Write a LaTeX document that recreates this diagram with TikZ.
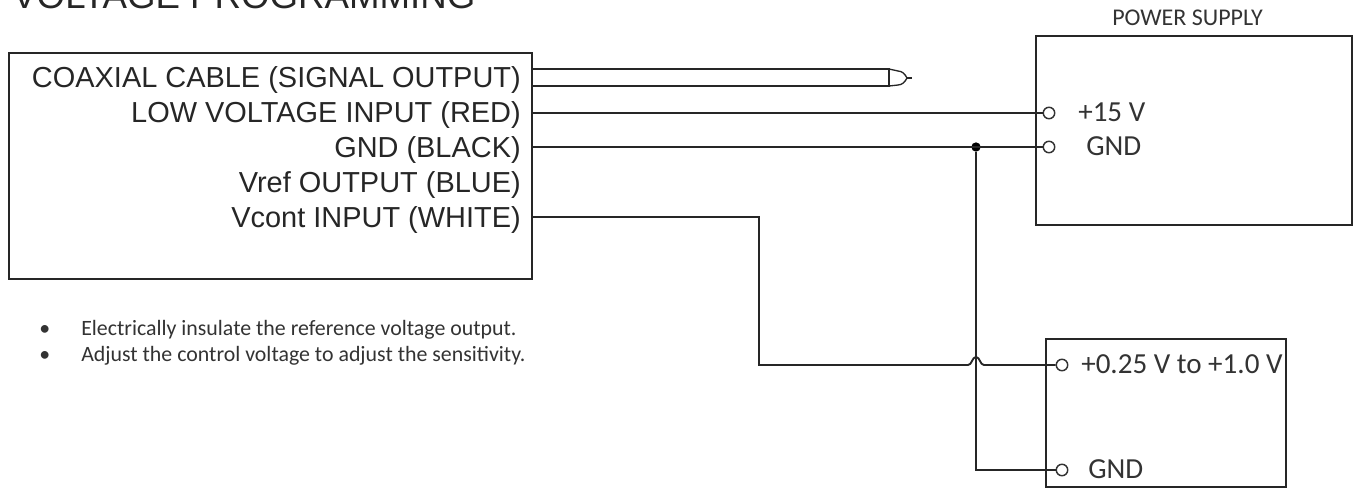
\documentclass[tikz,border=0pt]{standalone}
\usepackage{fontspec}
\setmainfont{Liberation Sans}
\newfontfamily\carl{Carlito}
\begin{document}
\begin{tikzpicture}[x=0.75pt,y=-0.75pt,
  box/.style={draw=black!85,line width=1.4pt,inner sep=0pt,anchor=north west},
  wire/.style={draw=black!85,line width=1.4pt},
  pin/.style={circle,draw=black!80,line width=1.1pt,fill=white,minimum size=8.6pt,inner sep=0pt},
  dot/.style={circle,fill=black,minimum size=7pt,inner sep=0pt},
  lab/.style={font=\fontsize{21.7pt}{24pt}\selectfont,text=black!85,anchor=base east,inner sep=0pt},
  cal/.style={font=\carl\fontsize{21.8pt}{24pt}\selectfont,text=black!80,anchor=base west,inner sep=0pt},
  note/.style={font=\carl\fontsize{16.4pt}{19pt}\selectfont,text=black!80,anchor=base west,inner sep=0pt}]
\useasboundingbox (0,0) rectangle (1372,487);
\clip (0,0) rectangle (1372,487);
% boxes
\node[box,minimum width=392.25pt,minimum height=169.5pt] (main) at (8,52) {};
\node[box,minimum width=237pt,minimum height=141.5pt] (ps) at (1035,35) {};
\node[box,minimum width=180pt,minimum height=111pt] (ctl) at (1045,338) {};
% texts
\node[font=\fontsize{27.5pt}{30pt}\selectfont,text=black!85,anchor=base west,inner sep=0pt] (title) at (12,8) {VOLTAGE PROGRAMMING};
\node[cal,font=\carl\fontsize{18pt}{20pt}\selectfont,anchor=base west] (pstitle) at (1112,25) {POWER SUPPLY};
\node[lab] (l1) at (521,87) {COAXIAL CABLE (SIGNAL OUTPUT)};
\node[lab] (l2) at (521,122) {LOW VOLTAGE INPUT (RED)};
\node[lab] (l3) at (521,157) {GND (BLACK)};
\node[lab] (l4) at (521,192) {Vref OUTPUT (BLUE)};
\node[lab] (l5) at (521,227) {Vcont INPUT (WHITE)};
\node[note] (b1) at (39,335) {•};
\node[note] (n1) at (81,335) {Electrically insulate the reference voltage output.};
\node[note] (b2) at (39,361) {•};
\node[note] (n2) at (81,361) {Adjust the control voltage to adjust the sensitivity.};
% pins
\node[pin] (p15) at (1049,113) {};
\node[pin] (pgnd) at (1049,147) {};
\node[pin] (pc) at (1062,365) {};
\node[pin] (pg2) at (1062,470) {};
\node[cal] (t15) at (1078,121) {+15 V};
\node[cal] (tgnd) at (1086,155) {GND};
\node[cal] (tc) at (1081,373) {+0.25 V to +1.0 V};
\node[cal] (tg2) at (1088,478) {GND};
% coaxial cable
\coordinate (c1) at (531,69);
\coordinate (c2) at (531,86);
\coordinate (c3) at (889,69);
\coordinate (c4) at (889,86);
\node[dot] (j) at (976,147) {};
\draw[wire] (c1) -- (c3) -- (c4) -- (c2);
\draw[wire,line width=1pt] (c3) -- (898,71) .. controls (902,71) and (905,74) .. (907,78) .. controls (905,82) and (902,85) .. (898,85) -- (c4);
\draw[wire,line width=0.8pt] (907,78) -- (912,78);
% wires
\coordinate (w2) at (531,113);
\coordinate (w3) at (531,147);
\coordinate (w5) at (531,217);
\coordinate (k1) at (759,217);
\coordinate (k2) at (759,365);
\coordinate (k3) at (968,365);
\coordinate (k4) at (984,365);
\coordinate (k5) at (976,470);
\draw[wire] (w2) -- (p15);
\draw[wire] (w3) -- (pgnd);
\draw[wire] (j) -- (k5) -- (pg2);
\draw[wire] (w5) -- (k1) -- (k2) -- (k3) .. controls (972,365) and (972,357) .. (976,357) .. controls (980,357) and (980,365) .. (k4) -- (pc);
\end{tikzpicture}
\end{document}
